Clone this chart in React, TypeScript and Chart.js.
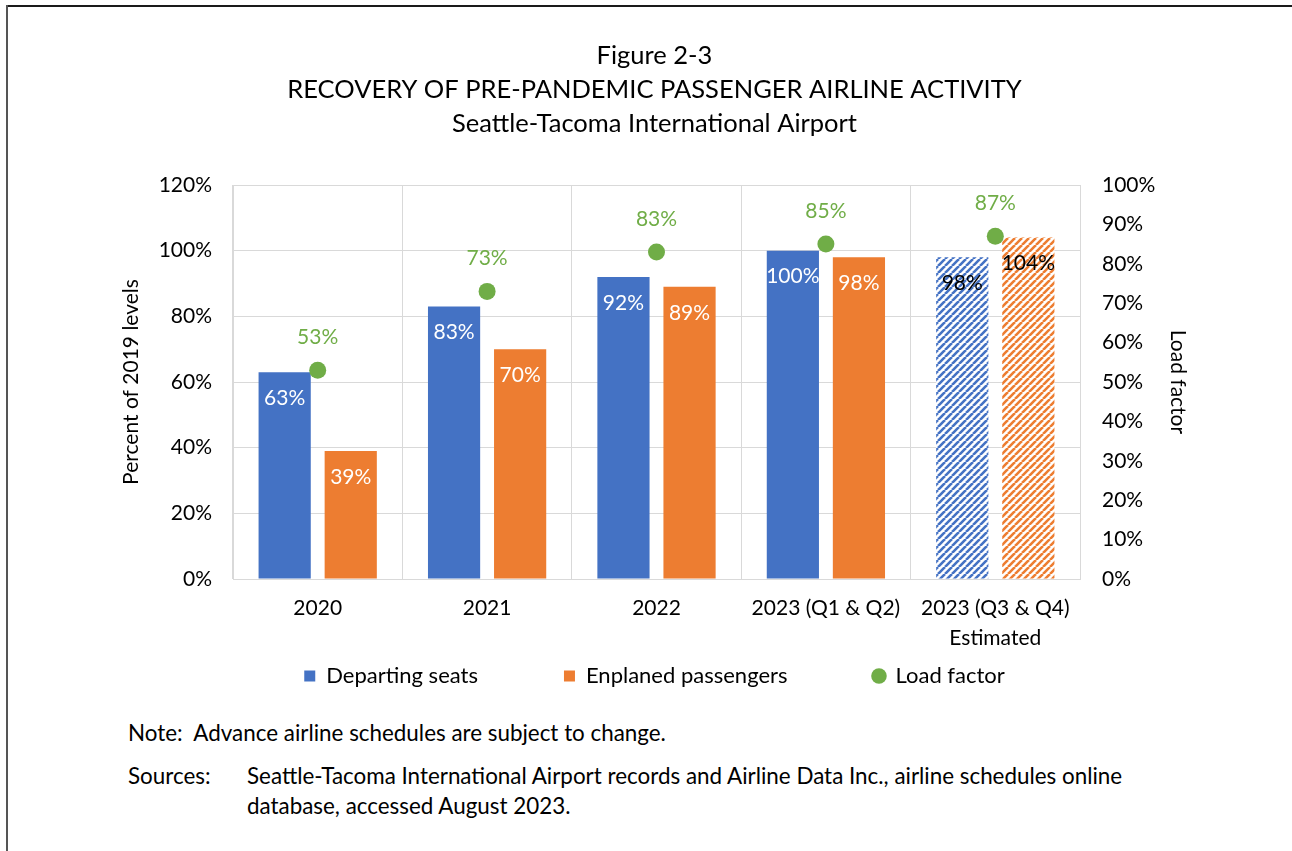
import React, { useEffect, useRef } from 'react';
import { Chart, registerables } from 'chart.js';

Chart.register(...registerables);

const titleLines = [
  'Figure 2-3',
  'RECOVERY OF PRE-PANDEMIC PASSENGER AIRLINE ACTIVITY',
  'Seattle-Tacoma International Airport',
];
const categories = [['2020'], ['2021'], ['2022'], ['2023 (Q1 & Q2)'], ['2023 (Q3 & Q4)', 'Estimated']];
const departingSeats = [63, 83, 92, 100, 98];
const enplanedPassengers = [39, 70, 89, 98, 104];
const loadFactor = [53, 73, 83, 85, 87];
const estimated = [false, false, false, false, true];
const leftAxisTitle = 'Percent of 2019 levels';
const rightAxisTitle = 'Load factor';
const seriesNames = ['Departing seats', 'Enplaned passengers', 'Load factor'];
const noteText = 'Note:\u00a0\u00a0Advance airline schedules are subject to change.';
const sourcesLabel = 'Sources:';
const sourcesLines = [
  'Seattle-Tacoma International Airport records and Airline Data Inc., airline schedules online',
  'database, accessed August 2023.',
];

const BLUE = '#4472c4';
const ORANGE = '#ed7d31';
const GREEN = '#70ad47';
const GRID = '#d9d9d9';
const FONT = 'Lato, "Open Sans", sans-serif';

function makeHatch(color: string): CanvasPattern | string {
  const s = 7;
  const c = document.createElement('canvas');
  c.width = s;
  c.height = s;
  const ctx = c.getContext('2d');
  if (!ctx) return color;
  ctx.fillStyle = '#ffffff';
  ctx.fillRect(0, 0, s, s);
  ctx.strokeStyle = color;
  ctx.lineWidth = 2.6;
  ctx.beginPath();
  for (const o of [-s, 0, s]) {
    ctx.moveTo(o, s);
    ctx.lineTo(o + s, 0);
  }
  ctx.stroke();
  return ctx.createPattern(c, 'repeat') || color;
}

const labelPlugin = {
  id: 'valueLabels',
  afterLayout(chart: any) {
    // let the x-axis labels draw below the (zero-height) axis box
    const xs = chart.scales.x;
    if (xs) xs.bottom = xs.top + 90;
  },
  afterDatasetsDraw(chart: any) {
    const ctx = chart.ctx;
    ctx.save();
    ctx.font = `21px ${FONT}`;
    ctx.textAlign = 'center';
    ctx.textBaseline = 'middle';
    chart.data.datasets.forEach((ds: any, di: number) => {
      const meta = chart.getDatasetMeta(di);
      meta.data.forEach((el: any, i: number) => {
        const v = ds.data[i];
        if (ds.type === 'line') {
          ctx.fillStyle = GREEN;
          ctx.fillText(`${v}%`, el.x, el.y - 33);
        } else {
          ctx.fillStyle = estimated[i] ? '#000000' : '#ffffff';
          ctx.fillText(`${v}%`, el.x, el.y + 26);
        }
      });
    });
    ctx.restore();
  },
};

export default function App() {
  const ref = useRef<HTMLCanvasElement>(null);

  useEffect(() => {
    if (!ref.current) return;
    Chart.defaults.font.family = FONT;
    const bluePat = makeHatch(BLUE);
    const orangePat = makeHatch(ORANGE);
    const chart = new Chart(ref.current, {
      type: 'bar',
      data: {
        labels: categories as any,
        datasets: [
          {
            label: seriesNames[0],
            data: departingSeats,
            backgroundColor: departingSeats.map((_, i) => (estimated[i] ? bluePat : BLUE)) as any,
            yAxisID: 'y',
            order: 1,
            categoryPercentage: 0.78,
            barPercentage: 0.79,
          },
          {
            label: seriesNames[1],
            data: enplanedPassengers,
            backgroundColor: enplanedPassengers.map((_, i) => (estimated[i] ? orangePat : ORANGE)) as any,
            yAxisID: 'y',
            order: 1,
            categoryPercentage: 0.78,
            barPercentage: 0.79,
          },
          {
            type: 'line',
            label: seriesNames[2],
            data: loadFactor,
            yAxisID: 'y1',
            showLine: false,
            pointRadius: 8.5,
            pointHoverRadius: 8.5,
            pointBackgroundColor: GREEN,
            pointBorderColor: GREEN,
            pointBorderWidth: 0,
            order: 0,
          } as any,
        ],
      },
      options: {
        animation: false,
        responsive: true,
        maintainAspectRatio: false,
        layout: { padding: { left: 115, right: 98, top: 0, bottom: 0 } },
        plugins: {
          tooltip: { enabled: false },
          title: {
            display: true,
            text: titleLines,
            color: '#000000',
            font: { size: 25.5, weight: 'normal', lineHeight: '34px', family: FONT },
            padding: { top: 39, bottom: 44 },
          },
          legend: {
            position: 'bottom',
            labels: {
              color: '#000000',
              font: { size: 22, family: FONT },
              usePointStyle: true,
              boxWidth: 11,
              boxHeight: 11,
              padding: 86,
              generateLabels: () => [
                { text: seriesNames[0], fillStyle: BLUE, strokeStyle: BLUE, lineWidth: 0, pointStyle: 'rect', hidden: false, datasetIndex: 0, fontColor: '#000' },
                { text: seriesNames[1], fillStyle: ORANGE, strokeStyle: ORANGE, lineWidth: 0, pointStyle: 'rect', hidden: false, datasetIndex: 1, fontColor: '#000' },
                { text: seriesNames[2], fillStyle: GREEN, strokeStyle: GREEN, lineWidth: 0, pointStyle: 'circle', hidden: false, datasetIndex: 2, fontColor: '#000' },
              ] as any,
            },
          },
        },
        scales: {
          x: {
            grid: { color: GRID, drawTicks: false, offset: true },
            border: { color: GRID },
            ticks: {
              color: '#000000',
              font: { size: 21, lineHeight: '30px', family: FONT },
              padding: 14,
              maxRotation: 0,
              autoSkip: false,
            },
            afterFit: (scale: any) => {
              scale.height = 0;
            },
          },
          y: {
            position: 'left',
            min: 0,
            max: 120,
            grid: { color: GRID, drawTicks: false },
            border: { color: GRID },
            ticks: {
              stepSize: 20,
              color: '#000000',
              font: { size: 21, family: FONT },
              padding: 21,
              callback: (v: any) => `${v}%`,
            },
            title: {
              display: true,
              text: leftAxisTitle,
              color: '#000000',
              font: { size: 21, family: FONT },
              padding: { top: 4, bottom: 4 },
            },
            afterFit: (scale: any) => {
              scale.width = 118;
            },
          },
          y1: {
            position: 'right',
            min: 0,
            max: 100,
            grid: { drawOnChartArea: false, drawTicks: false },
            border: { color: GRID },
            ticks: {
              stepSize: 10,
              color: '#000000',
              font: { size: 21, family: FONT },
              padding: 22,
              callback: (v: any) => `${v}%`,
            },
            title: {
              display: true,
              text: rightAxisTitle,
              color: '#000000',
              font: { size: 21, family: FONT },
              padding: { top: 4, bottom: 4 },
            },
            afterFit: (scale: any) => {
              scale.width = 114;
            },
          },
        },
      },
      plugins: [labelPlugin],
    });
    return () => chart.destroy();
  }, []);

  const textStyle: React.CSSProperties = {
    position: 'absolute',
    fontFamily: FONT,
    fontSize: 22.4,
    lineHeight: '30px',
    color: '#000',
    whiteSpace: 'nowrap',
  };

  return (
    <div style={{ position: 'absolute', left: 0, top: 0, width: 1292, height: 851, overflow: 'hidden', background: '#ffffff' }}>
      <div style={{ position: 'absolute', left: 6, top: 5, width: 1300, height: 2, background: '#1a1a1a' }} />
      <div style={{ position: 'absolute', left: 6, top: 5, width: 2, height: 860, background: '#555555' }} />
      <div style={{ position: 'absolute', left: 0, top: 0, width: 1292, height: 697 }}>
        <canvas ref={ref} />
      </div>
      <div style={{ ...textStyle, left: 128, top: 718 }}>{noteText}</div>
      <div style={{ ...textStyle, left: 128, top: 761 }}>{sourcesLabel}</div>
      <div style={{ ...textStyle, left: 247, top: 761 }}>
        {sourcesLines.map((l, i) => (
          <div key={i}>{l}</div>
        ))}
      </div>
    </div>
  );
}
